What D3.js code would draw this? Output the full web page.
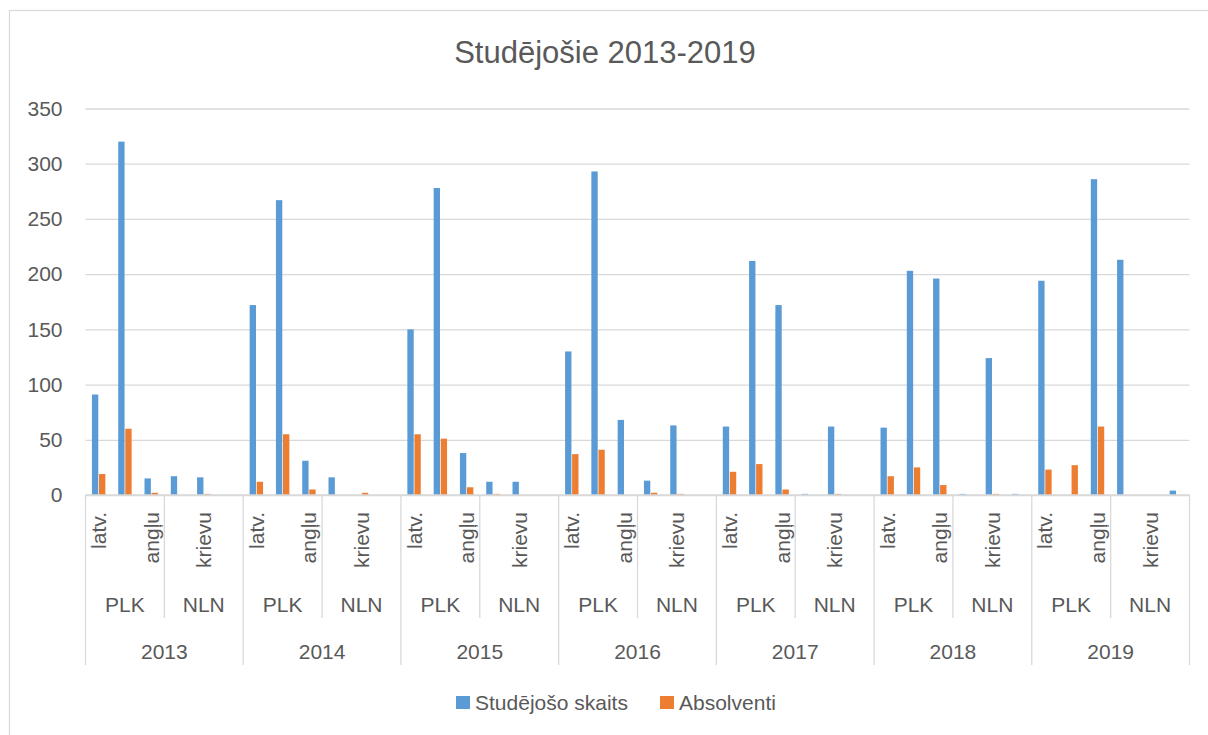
<!DOCTYPE html>
<html><head><meta charset="utf-8">
<script src="https://cdn.jsdelivr.net/npm/d3@7"></script>
<style>body{margin:0;background:#fff}svg{display:block}</style>
</head><body>
<div id="chart"></div>
<script>
const years = ["2013","2014","2015","2016","2017","2018","2019"];
const programs = ["PLK","NLN"];
const languages = ["latv.","krievu","angļu"];
const seriesNames = ["Studējošo skaits","Absolventi"];
const yTicks = [0,50,100,150,200,250,300,350];
// per year: PLK latv., PLK krievu, PLK angļu, NLN latv., NLN krievu, NLN angļu
const studejoso = [
  [91,320,15,17,16,0],
  [172,267,31,16,0,0],
  [150,278,38,12,12,0],
  [130,293,68,13,63,0],
  [62,212,172,1,62,0],
  [61,203,196,1,124,1],
  [194,0,286,213,0,4]
];
const absolventi = [
  [19,60,2,0,1,0],
  [12,55,5,0,2,0],
  [55,51,7,1,0,0],
  [37,41,0,2,1,0],
  [21,28,5,0,1,0],
  [17,25,9,0,1,0],
  [23,27,62,0,0,0]
];
const colors = ["#5B9BD5","#ED7D31"];

const W=1208,H=735;
const svg=d3.select("#chart").append("svg").attr("width",W).attr("height",H);
const FONT="'Liberation Sans', Arial, sans-serif";
const TXT="#595959", GRID="#D9D9D9";

svg.append("rect").attr("x",9.5).attr("y",10.5).attr("width",1210).attr("height",740)
  .attr("fill","#fff").attr("stroke","#D9D9D9").attr("stroke-width",1.2);

// categories
const cats=[];
years.forEach((yr,yi)=>programs.forEach((p,pi)=>languages.forEach((l,li)=>{
  cats.push({idx:cats.length,year:yr,prog:p,lang:l,vals:[studejoso[yi][pi*3+li],absolventi[yi][pi*3+li]]});
})));

const left=85.5,right=1189.5,zeroY=495,topY=108.5;
const x=d3.scaleBand().domain(cats.map(c=>c.idx)).range([left,right]).padding(0);
const bw=x.bandwidth();
const x1=d3.scaleBand().domain(seriesNames).range([bw*0.245,bw*0.755]).paddingInner(0.1);
const y=d3.scaleLinear().domain([0,350]).range([zeroY,topY]);

// y axis with gridlines
const ya=svg.append("g").attr("transform",`translate(${left},0)`)
  .call(d3.axisLeft(y).tickValues(yTicks).tickSize(-(right-left)).tickPadding(23));
ya.select(".domain").remove();
ya.selectAll(".tick line").attr("stroke",GRID).attr("stroke-width",1.3);
ya.selectAll(".tick text").attr("fill",TXT).style("font-family",FONT).style("font-size","21px");

// bars
const g=svg.append("g");
cats.forEach(c=>{
  seriesNames.forEach((s,si)=>{
    const v=c.vals[si];
    if(v<=0) return;
    g.append("rect").attr("x",x(c.idx)+x1(s)).attr("width",x1.bandwidth())
      .attr("y",y(v)).attr("height",zeroY-y(v)).attr("fill",colors[si]);
  });
});

// x hierarchy
const xa=svg.append("g");
xa.append("line").attr("x1",left).attr("x2",right).attr("y1",zeroY).attr("y2",zeroY)
  .attr("stroke",GRID).attr("stroke-width",1.3);
years.forEach((yr,yi)=>{
  const x0=x(yi*6), xm=x(yi*6+3), xe=yi===years.length-1?right:x(yi*6+6);
  xa.append("line").attr("x1",x0).attr("x2",x0).attr("y1",zeroY).attr("y2",665).attr("stroke",GRID).attr("stroke-width",1.3);
  xa.append("line").attr("x1",xm).attr("x2",xm).attr("y1",zeroY).attr("y2",618).attr("stroke",GRID).attr("stroke-width",1.3);
  if(yi===years.length-1)
    xa.append("line").attr("x1",xe).attr("x2",xe).attr("y1",zeroY).attr("y2",665).attr("stroke",GRID).attr("stroke-width",1.3);
  xa.append("text").attr("x",(x0+xe)/2).attr("y",651).attr("text-anchor","middle").attr("dominant-baseline","central")
    .attr("fill",TXT).style("font-family",FONT).style("font-size","21px").text(yr);
  programs.forEach((p,pi)=>{
    const a=x(yi*6+pi*3), b=pi===0?xm:xe;
    xa.append("text").attr("x",(a+b)/2).attr("y",604).attr("text-anchor","middle").attr("dominant-baseline","central")
      .attr("fill",TXT).style("font-family",FONT).style("font-size","21px").text(p);
  });
});
cats.forEach(c=>{
  if(c.idx%2!==0) return;
  xa.append("text").attr("transform",`translate(${x(c.idx)+bw/2},512) rotate(-90)`)
    .attr("text-anchor","end").attr("dominant-baseline","central")
    .attr("fill",TXT).style("font-family",FONT).style("font-size","21px").text(c.lang);
});

// title
svg.append("text").attr("x",605).attr("y",52).attr("text-anchor","middle").attr("dominant-baseline","central")
  .attr("fill",TXT).style("font-family",FONT).style("font-size","31px").text("Studējošie 2013-2019");

// legend
const legX=[456,660];
seriesNames.forEach((s,i)=>{
  svg.append("rect").attr("x",legX[i]).attr("y",696).attr("width",14).attr("height",13).attr("fill",colors[i]);
  svg.append("text").attr("x",legX[i]+19).attr("y",702.5).attr("dominant-baseline","central")
    .attr("fill",TXT).style("font-family",FONT).style("font-size","21px").text(s);
});
</script>
</body></html>
